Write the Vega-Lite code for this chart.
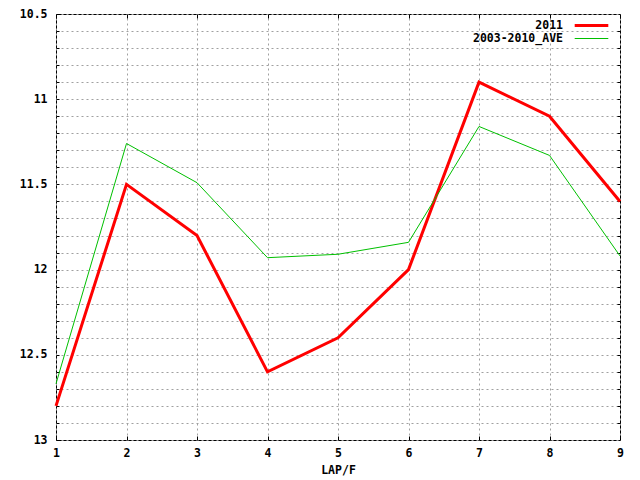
{
  "$schema": "https://vega.github.io/schema/vega-lite/v6.json",
  "autosize": {"type": "none"},
  "width": 564,
  "height": 426,
  "padding": {"left": 56, "top": 14, "right": 20, "bottom": 40},
  "background": "white",
  "config": {
    "view": {"stroke": "black", "strokeWidth": 1},
    "font": "DejaVu Sans Mono",
    "axis": {
      "labelFont": "DejaVu Sans Mono",
      "labelFontSize": 11.5,
      "labelFontWeight": "bold",
      "labelColor": "black",
      "titleFont": "DejaVu Sans Mono",
      "titleFontSize": 11.5,
      "titleFontWeight": "bold",
      "titleColor": "black",
      "domain": false,
      "ticks": true,
      "tickColor": "black",
      "tickWidth": 1,
      "gridColor": "#a0a0a0",
      "gridDash": [2, 3],
      "gridWidth": 1,
      "gridOpacity": 1
    },
    "legend": {
      "labelFont": "DejaVu Sans Mono",
      "labelFontSize": 11.5,
      "labelFontWeight": "bold",
      "labelColor": "black"
    }
  },
  "data": {
    "values": [
      {"lap": 1, "series": "2011", "time": 12.8},
      {"lap": 2, "series": "2011", "time": 11.5},
      {"lap": 3, "series": "2011", "time": 11.8},
      {"lap": 4, "series": "2011", "time": 12.6},
      {"lap": 5, "series": "2011", "time": 12.4},
      {"lap": 6, "series": "2011", "time": 12.0},
      {"lap": 7, "series": "2011", "time": 10.9},
      {"lap": 8, "series": "2011", "time": 11.1},
      {"lap": 9, "series": "2011", "time": 11.6},
      {"lap": 1, "series": "2003-2010_AVE", "time": 12.67},
      {"lap": 2, "series": "2003-2010_AVE", "time": 11.26},
      {"lap": 3, "series": "2003-2010_AVE", "time": 11.49},
      {"lap": 4, "series": "2003-2010_AVE", "time": 11.93},
      {"lap": 5, "series": "2003-2010_AVE", "time": 11.91},
      {"lap": 6, "series": "2003-2010_AVE", "time": 11.84},
      {"lap": 7, "series": "2003-2010_AVE", "time": 11.16},
      {"lap": 8, "series": "2003-2010_AVE", "time": 11.33},
      {"lap": 9, "series": "2003-2010_AVE", "time": 11.92}
    ]
  },
  "encoding": {
    "color": {
      "field": "series",
      "type": "nominal",
      "sort": ["2011", "2003-2010_AVE"],
      "scale": {"domain": ["2011", "2003-2010_AVE"], "range": ["#ff0000", "#00c000"]},
      "legend": {
        "title": null,
        "orient": "none",
        "legendX": 528,
        "legendY": 4,
        "padding": 0,
        "symbolType": "M-2.8,0H2.8",
        "symbolSize": 144,
        "labelAlign": "right",
        "labelOffset": -36,
        "rowPadding": 0
      }
    },
    "strokeWidth": {
      "field": "series",
      "type": "nominal",
      "sort": ["2011", "2003-2010_AVE"],
      "scale": {"domain": ["2011", "2003-2010_AVE"], "range": [3, 1]},
      "legend": {
        "title": null,
        "orient": "none",
        "legendX": 528,
        "legendY": 4,
        "padding": 0,
        "symbolType": "M-2.8,0H2.8",
        "symbolSize": 144,
        "labelAlign": "right",
        "labelOffset": -36,
        "rowPadding": 0
      }
    }
  },
  "layer": [
    {
      "transform": [{"filter": "datum.series === '2011'"}],
      "mark": {"type": "line", "strokeCap": "butt", "strokeJoin": "miter"},
      "encoding": {
        "x": {
          "field": "lap",
          "type": "quantitative",
          "scale": {"domain": [1, 9], "nice": false, "zero": false},
          "axis": {
            "orient": "bottom",
            "values": [1, 2, 3, 4, 5, 6, 7, 8, 9],
            "format": "d",
            "tickSize": -4,
            "labelPadding": 11,
            "labelFlush": false,
            "title": "LAP/F",
            "titlePadding": 6
          }
        },
        "y": {
          "field": "time",
          "type": "quantitative",
          "scale": {"domain": [10.5, 13], "reverse": true, "nice": false, "zero": false},
          "axis": {
            "orient": "left",
            "values": [10.5, 10.6, 10.7, 10.8, 10.9, 11, 11.1, 11.2, 11.3, 11.4, 11.5, 11.6, 11.7, 11.8, 11.9, 12, 12.1, 12.2, 12.3, 12.4, 12.5, 12.6, 12.7, 12.8, 12.9, 13],
            "labelExpr": "abs(datum.value * 2 - round(datum.value * 2)) < 0.001 ? format(datum.value, '~g') : ''",
            "tickSize": -3,
            "labelPadding": 12,
            "labelFlush": false,
            "title": null
          }
        }
      }
    },
    {
      "transform": [{"filter": "datum.series === '2003-2010_AVE'"}],
      "mark": {"type": "line", "strokeCap": "butt", "strokeJoin": "miter"},
      "encoding": {
        "x": {
          "field": "lap",
          "type": "quantitative",
          "scale": {"domain": [1, 9], "nice": false, "zero": false},
          "axis": {
            "orient": "top",
            "values": [1, 2, 3, 4, 5, 6, 7, 8, 9],
            "tickSize": -4,
            "labels": false,
            "grid": false,
            "title": null
          }
        },
        "y": {
          "field": "time",
          "type": "quantitative",
          "scale": {"domain": [10.5, 13], "reverse": true, "nice": false, "zero": false},
          "axis": {
            "orient": "right",
            "values": [10.6, 10.7, 10.8, 10.9, 11, 11.1, 11.2, 11.3, 11.4, 11.5, 11.6, 11.7, 11.8, 11.9, 12, 12.1, 12.2, 12.3, 12.4, 12.5, 12.6, 12.7, 12.8, 12.9],
            "tickSize": -3,
            "labels": false,
            "grid": false,
            "title": null
          }
        }
      }
    }
  ]
}
